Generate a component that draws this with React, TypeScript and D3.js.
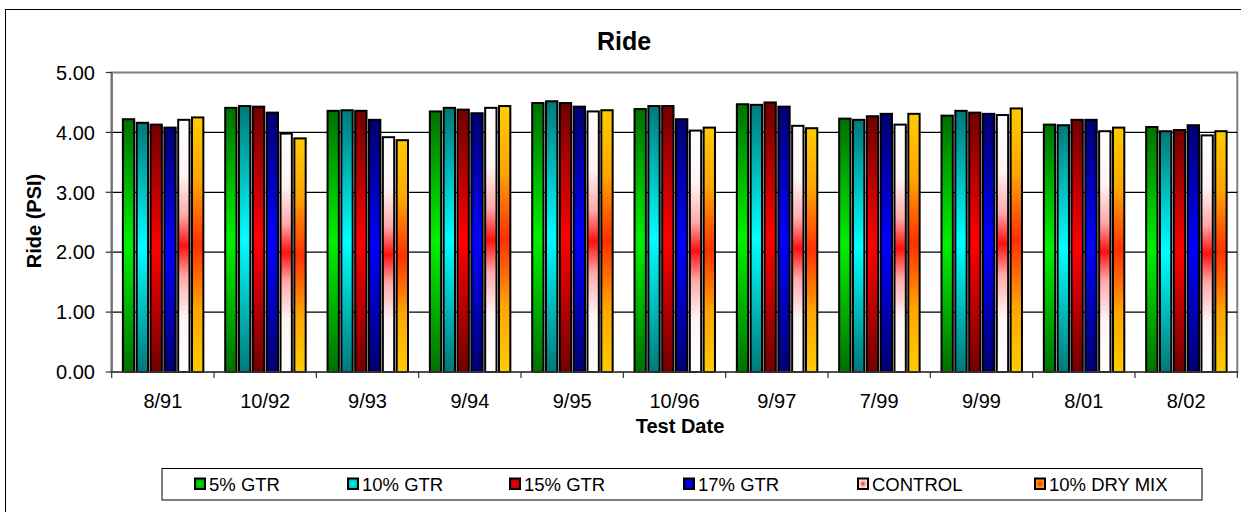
import React from "react";
import * as d3 from "d3";

const categories = ["8/91", "10/92", "9/93", "9/94", "9/95", "10/96", "9/97", "7/99", "9/99", "8/01", "8/02"];
const seriesNames = ["5% GTR", "10% GTR", "15% GTR", "17% GTR", "CONTROL", "10% DRY MIX"];
const gtr5 = [4.22, 4.41, 4.36, 4.35, 4.49, 4.39, 4.47, 4.23, 4.28, 4.13, 4.09];
const gtr10 = [4.16, 4.44, 4.37, 4.41, 4.52, 4.44, 4.46, 4.21, 4.36, 4.12, 4.02];
const gtr15 = [4.13, 4.43, 4.36, 4.38, 4.49, 4.44, 4.5, 4.27, 4.33, 4.21, 4.04];
const gtr17 = [4.08, 4.33, 4.21, 4.32, 4.43, 4.22, 4.43, 4.31, 4.31, 4.21, 4.12];
const control = [4.21, 3.98, 3.92, 4.41, 4.35, 4.03, 4.11, 4.13, 4.29, 4.02, 3.95];
const dryMix = [4.25, 3.9, 3.87, 4.44, 4.37, 4.08, 4.07, 4.31, 4.4, 4.08, 4.02];
const yTicks = [0, 1, 2, 3, 4, 5];

const seriesValues = [gtr5, gtr10, gtr15, gtr17, control, dryMix];

// gradient stops per series: [offset, color]
const gradients: [number, string][][] = [
  [[0, "#007000"], [0.5, "#00F000"], [1, "#007000"]],
  [[0, "#007878"], [0.5, "#00FFFF"], [1, "#007878"]],
  [[0, "#700000"], [0.5, "#FF0000"], [1, "#700000"]],
  [[0, "#000070"], [0.5, "#0000FF"], [1, "#000070"]],
  [[0, "#FFFFFF"], [0.22, "#FFF4F4"], [0.38, "#FFA8A8"], [0.5, "#FF1010"], [0.62, "#FFA8A8"], [0.78, "#FFF4F4"], [1, "#FFFFFF"]],
  [[0, "#FFCC00"], [0.25, "#FFA500"], [0.5, "#FF3000"], [0.75, "#FFA500"], [1, "#FFCC00"]],
];

const legendX = [195, 348, 510, 684, 858, 1035];

export default function App() {
  const W = 1241, H = 512;
  const left = 111.7, right = 1237.3, top = 72.5, bottom = 372;
  const x0 = d3.scaleBand<string>().domain(categories).range([left, right]).paddingInner(0).paddingOuter(0);
  const x1 = d3.scaleBand<string>().domain(seriesNames).range([0, x0.bandwidth()]).paddingInner(0).paddingOuter(0.7);
  const y = d3.scaleLinear().domain([0, 5]).range([bottom, top]);
  const step = x1.bandwidth();
  const font = "Arial, 'Liberation Sans', sans-serif";

  return (
    <svg width={W} height={H} style={{ position: "absolute", left: 0, top: 0, display: "block", background: "#fff" }} fontFamily={font}>
      <defs>
        {gradients.map((g, i) => (
          <linearGradient key={i} id={`g${i}`} x1="0" y1="0" x2="0" y2="1">
            {g.map(([o, c], j) => <stop key={j} offset={o} stopColor={c} />)}
          </linearGradient>
        ))}
        {gradients.map((g, i) => (
          <radialGradient key={i} id={`r${i}`} cx="0.5" cy="0.5" r="0.9">
            {g.filter(([o]) => o >= 0.5).map(([o, c], j) => <stop key={j} offset={(o - 0.5) * 2} stopColor={c} />)}
          </radialGradient>
        ))}
      </defs>
      <rect x={0} y={0} width={W} height={H} fill="#fff" />
      <rect x={5.5} y={9.5} width={1400} height={700} fill="#fff" stroke="#000" strokeWidth={1} />
      <text x={624} y={50} textAnchor="middle" fontSize={25} fontWeight="bold">Ride</text>

      {/* plot area */}
      <rect x={left} y={top} width={right - left} height={bottom - top} fill="#fff" stroke="#808080" strokeWidth={2} />
      {yTicks.filter(t => t > 0 && t < 5).map(t => (
        <line key={t} x1={left} x2={right} y1={y(t)} y2={y(t)} stroke="#000" strokeWidth={1.2} />
      ))}

      {/* bars */}
      {categories.map((c, ci) => (
        <g key={c}>
          {seriesNames.map((s, si) => {
            const v = seriesValues[si][ci];
            const bx = (x0(c) as number) + (x1(s) as number);
            return (
              <rect key={s} x={bx + 1.5} y={y(v)} width={step - 2.5} height={bottom - y(v)}
                fill={`url(#g${si})`} stroke="#000" strokeWidth={2} />
            );
          })}
        </g>
      ))}

      {/* axes */}
      <line x1={left} x2={left} y1={top} y2={bottom} stroke="#707070" strokeWidth={2} />
      <line x1={left - 1} x2={right + 1} y1={bottom} y2={bottom} stroke="#404040" strokeWidth={1.5} />
      {yTicks.map(t => (
        <g key={t}>
          <line x1={left - 6} x2={left} y1={y(t)} y2={y(t)} stroke="#333" strokeWidth={1.2} />
          <text x={95} y={y(t)} dy="0.36em" textAnchor="end" fontSize={20}>{t.toFixed(2)}</text>
        </g>
      ))}
      {categories.map(c => (
        <line key={c} x1={x0(c) as number} x2={x0(c) as number} y1={bottom} y2={bottom + 6} stroke="#333" strokeWidth={1.2} />
      ))}
      <line x1={right} x2={right} y1={bottom} y2={bottom + 6} stroke="#333" strokeWidth={1.2} />
      {categories.map(c => (
        <text key={c} x={(x0(c) as number) + x0.bandwidth() / 2} y={408} textAnchor="middle" fontSize={20}>{c}</text>
      ))}
      <text x={680} y={433} textAnchor="middle" fontSize={20} fontWeight="bold">Test Date</text>
      <text transform={`translate(41,221) rotate(-90)`} textAnchor="middle" fontSize={20} fontWeight="bold">Ride (PSI)</text>

      {/* legend */}
      <rect x={162} y={468.5} width={1040} height={31.5} fill="#fff" stroke="#000" strokeWidth={1} />
      {seriesNames.map((s, i) => (
        <g key={s}>
          <rect x={legendX[i]} y={478.5} width={10} height={10.5} fill={`url(#r${i})`} stroke="#000" strokeWidth={2} />
          <text x={legendX[i] + 14} y={491} fontSize={18.5}>{s}</text>
        </g>
      ))}
    </svg>
  );
}
